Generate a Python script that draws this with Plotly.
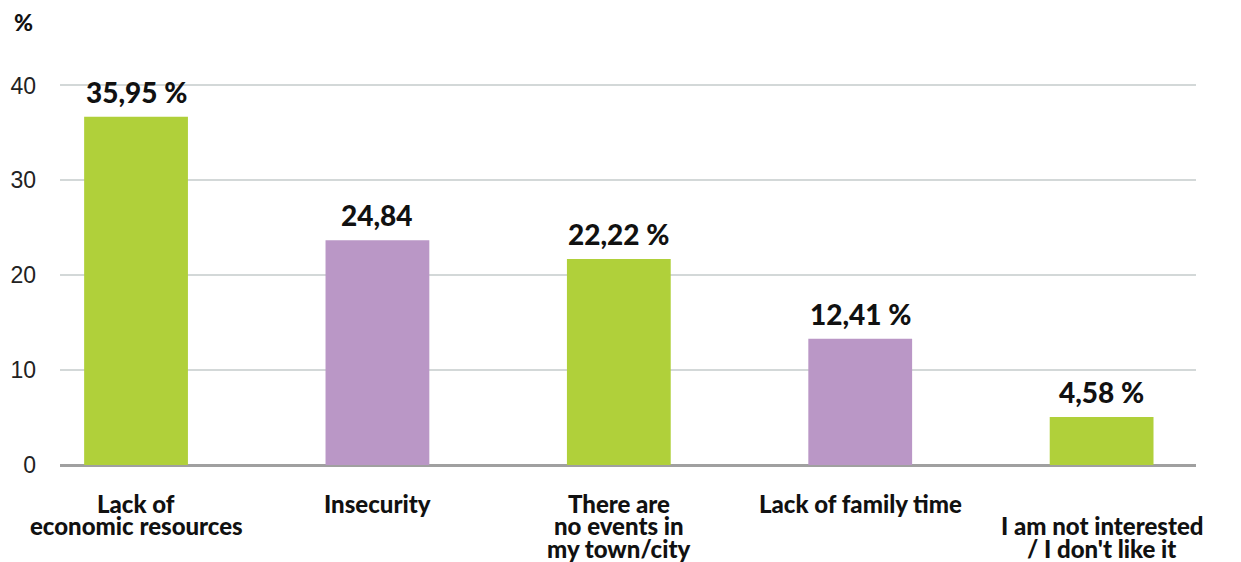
import plotly.graph_objects as go

# category label lines ("" = empty line)
categories = [
    ["Lack of", "economic resources"],
    ["Insecurity"],
    ["There are", "no events in", "my town/city"],
    ["Lack of family time"],
    ["", "I am not interested", "/ I don't like it"],
]
# bar heights as drawn in the picture
bar_values = [36.7, 23.7, 21.7, 13.3, 5.05]
# value labels as printed
value_labels = ["35,95 %", "24,84", "22,22 %", "12,41 %", "4,58 %"]
colors = ["#B0D03A", "#BA97C6", "#B0D03A", "#BA97C6", "#B0D03A"]
y_ticks = [0, 10, 20, 30, 40]
unit_label = "%"

x_pos = list(range(len(categories)))

FIG_W, FIG_H = 1233, 554
ML, MR, MT, MB = 52, 45, 67.5, 97

fig = go.Figure()
fig.add_trace(go.Bar(
    x=x_pos,
    y=bar_values,
    width=0.43,
    marker=dict(color=colors, line=dict(width=0)),
    hoverinfo="skip",
))

annotations = []
# value labels above bars
for xi, v, lab in zip(x_pos, bar_values, value_labels):
    annotations.append(dict(
        x=xi, xref="x", y=v, yref="y",
        yanchor="bottom", xanchor="center", yshift=6,
        text=lab, showarrow=False,
        font=dict(family="Lato", size=28, color="#111111", weight=900),
    ))

# category labels under the axis, one annotation per line
LINE_H = 22.5
for xi, lines in zip(x_pos, categories):
    for li, line in enumerate(lines):
        if not line:
            continue
        annotations.append(dict(
            x=xi, xref="x", y=0, yref="paper",
            yanchor="middle", xanchor="center",
            yshift=-38 - li * LINE_H,
            text=line, showarrow=False,
            font=dict(family="Lato", size=24, color="#111111", weight=900),
        ))

plot_w = FIG_W - ML - MR
plot_h = FIG_H - MT - MB
annotations.append(dict(
    x=(15 - ML) / plot_w, xref="paper",
    y=(FIG_H - MB - 13) / plot_h, yref="paper",
    xanchor="center", yanchor="middle", showarrow=False,
    text=unit_label,
    font=dict(family="Lato", size=23, color="#111111", weight=900),
))

fig.update_layout(
    width=FIG_W, height=FIG_H,
    margin=dict(l=ML, r=MR, t=MT, b=MB, autoexpand=False),
    paper_bgcolor="white", plot_bgcolor="white",
    showlegend=False,
    annotations=annotations,
    xaxis=dict(
        range=[-0.315, 4.391],
        showticklabels=False, showgrid=False, zeroline=False,
        ticks="", fixedrange=True, automargin=False,
    ),
    yaxis=dict(
        range=[0, 41],
        tickvals=y_ticks,
        showgrid=True, gridcolor="#D3D8D8", gridwidth=2,
        zeroline=True, zerolinecolor="#A0A0A0", zerolinewidth=3,
        ticks="", ticklabelstandoff=23,
        tickfont=dict(family="Liberation Sans", size=23, color="#222222"),
        fixedrange=True, automargin=False,
    ),
)

fig.write_html("out.html")
